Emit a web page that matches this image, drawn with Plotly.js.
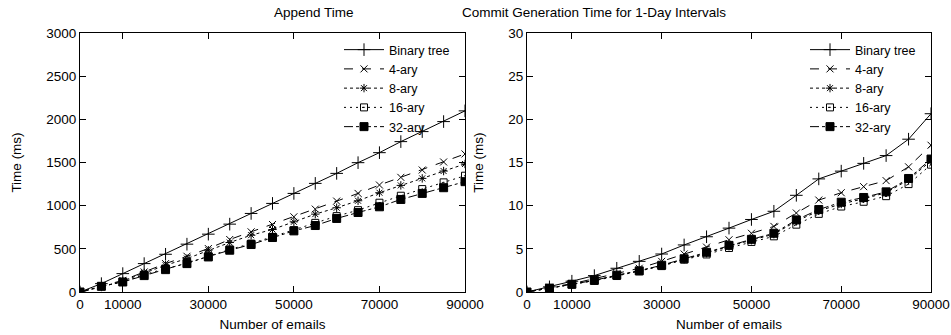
<!DOCTYPE html>
<html><head><meta charset="utf-8">
<script src="https://cdn.plot.ly/plotly-3.0.1.min.js"></script>
<style>body{margin:0;background:#fff}#c{width:951px;height:335px}</style>
</head><body><div id="c"></div>
<script>
const emails = [0,5000,10000,15000,20000,25000,30000,35000,40000,45000,50000,55000,60000,65000,70000,75000,80000,85000,90000];
const seriesNames = ["Binary tree","4-ary","8-ary","16-ary","32-ary"];
// Append Time (ms)
const appendBinary = [0,97,213,329,437,554,670,786,910,1026,1142,1258,1374,1498,1614,1742,1858,1974,2098];
const append4 = [0,66,135,232,329,414,503,608,697,782,871,960,1053,1142,1239,1328,1413,1506,1599];
const append8 = [0,58,128,221,310,387,484,573,658,724,813,902,976,1057,1150,1235,1316,1401,1483];
const append16 = [0,66,116,201,271,329,414,492,561,639,716,801,879,948,1034,1115,1192,1270,1347];
const append32 = [0,66,116,190,259,329,406,484,550,631,708,770,852,921,987,1072,1142,1208,1278];
// Commit generation time (ms)
const commitBinary = [0,0.6,1.25,1.9,2.75,3.55,4.4,5.45,6.4,7.4,8.4,9.35,11.2,13.1,14.0,14.9,15.8,17.7,20.65];
const commit4 = [0,0.55,0.95,1.55,2.1,2.75,3.55,4.4,5.2,6.05,6.8,7.6,9.15,10.65,11.5,12.2,12.9,14.5,17.0];
const commit8 = [0,0.45,0.9,1.35,1.9,2.45,3.05,3.8,4.5,5.3,6.0,6.7,8.2,9.4,10.2,10.8,11.5,13.0,15.2];
const commit16 = [0,0.45,0.85,1.3,1.85,2.4,3.0,3.75,4.35,5.1,5.8,6.45,7.8,9.05,9.9,10.45,11.1,12.5,14.75];
const commit32 = [0,0.45,0.9,1.35,1.95,2.45,3.1,3.85,4.6,5.4,6.1,6.8,8.35,9.55,10.4,10.95,11.6,13.15,15.4];
const xTicks = [0,10000,30000,50000,70000,90000];

const styles = [
  {dash:'solid', symbol:'cross-thin-open', size:9},
  {dash:'dash', symbol:'x-thin-open', size:7},
  {dash:'dot', symbol:'asterisk-open', size:7},
  {dash:'2px,4px', symbol:'square-open-dot', size:7},
  {dash:'dashdot', symbol:'square', size:8}
];
const appendData = [appendBinary, append4, append8, append16, append32];
const commitData = [commitBinary, commit4, commit8, commit16, commit32];
const traces = [];
function add(data, xa, ya, lg){
  data.forEach((ys,i)=>{
    traces.push({x:emails, y:ys, xaxis:xa, yaxis:ya, legend:lg, name:seriesNames[i],
      type:'scatter', mode:'lines+markers',
      line:{color:'#000', width:1, dash:styles[i].dash},
      marker:{color:'#000', symbol:styles[i].symbol, size:styles[i].size, line:{color:'#000', width:1}}});
  });
}
add(appendData,'x','y','legend');
add(commitData,'x2','y2','legend2');

const fam = 'Liberation Sans, Arial, sans-serif';
const font = {family:fam, size:13.5, color:'#000'};
const legFont = {family:fam, size:12.5, color:'#000'};
const axBase = {showline:true, linecolor:'#000', linewidth:1, mirror:'ticks', ticks:'inside', ticklen:6, tickcolor:'#000', showgrid:false, zeroline:false, tickfont:font};
const xa = Object.assign({}, axBase, {range:[0,90000], tickmode:'array', tickvals:xTicks, ticktext:xTicks.map(String), title:{text:'Number of emails', font:font, standoff:8}});
const legBase = {xanchor:'right', yanchor:'top', bgcolor:'rgba(0,0,0,0)', font:legFont, tracegroupgap:0, itemwidth:40};

const layout = {
  width:951, height:335, margin:{l:0,r:0,t:0,b:0}, showlegend:true,
  paper_bgcolor:'#fff', plot_bgcolor:'#fff', font:font,
  xaxis: Object.assign({}, xa, {domain:[80/951, 465/951], anchor:'y'}),
  yaxis: Object.assign({}, axBase, {range:[0,3000], dtick:500, domain:[43/335, 302/335], anchor:'x', title:{text:'Time (ms)', font:font, standoff:21}}),
  xaxis2: Object.assign({}, xa, {domain:[527/951, 931/951], anchor:'y2'}),
  yaxis2: Object.assign({}, axBase, {range:[0,30], dtick:5, domain:[43/335, 302/335], anchor:'x2', title:{text:'Time (ms)', font:font, standoff:21}}),
  legend: Object.assign({}, legBase, {x:455/951, y:1-35/335}),
  legend2: Object.assign({}, legBase, {x:921/951, y:1-35/335}),
  annotations:[
    {text:'Append Time', xref:'paper', yref:'paper', x:272/951, y:1-13/335, showarrow:false, font:font, yanchor:'middle'},
    {text:'Commit Generation Time for 1-Day Intervals', xref:'paper', yref:'paper', x:728/951, y:1-13/335, showarrow:false, font:font, yanchor:'middle'}
  ]
};
Plotly.newPlot('c', traces, layout, {staticPlot:true});
</script></body></html>
